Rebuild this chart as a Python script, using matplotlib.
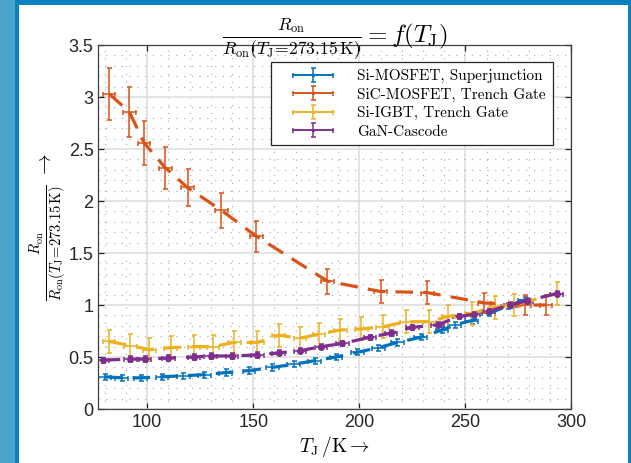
import numpy as np
import matplotlib
matplotlib.use("Agg")
import matplotlib.pyplot as plt
from matplotlib.patches import Rectangle
from matplotlib.ticker import MultipleLocator, FormatStrFormatter
from matplotlib.legend_handler import HandlerErrorbar
from matplotlib.container import ErrorbarContainer

plt.rcParams['font.family'] = ['Liberation Sans', 'DejaVu Sans']
plt.rcParams['mathtext.fontset'] = 'cm'

# Si-MOSFET, Superjunction
t_si_mos = [80, 88, 97, 107, 117, 127, 137, 148, 159, 169, 179, 189, 199, 209, 218, 229, 239, 245, 253, 261, 270, 278]
r_si_mos = [0.31, 0.30, 0.30, 0.31, 0.32, 0.33, 0.35, 0.37, 0.40, 0.43, 0.465, 0.50, 0.545, 0.59, 0.64, 0.69, 0.76, 0.81, 0.85, 0.92, 0.99, 1.05]
e_si_mos = 0.03

# SiC-MOSFET, Trench Gate
t_sic = [82, 91.5, 98.5, 108.5, 119, 135, 151.5, 185, 210, 232, 259, 278, 288]
r_sic = [3.03, 2.86, 2.56, 2.32, 2.13, 1.91, 1.66, 1.23, 1.13, 1.12, 1.02, 1.0, 1.0]
e_sic = [0.25, 0.24, 0.21, 0.20, 0.18, 0.17, 0.15, 0.12, 0.11, 0.11, 0.10, 0.10, 0.10]

# Si-IGBT, Trench Gate
t_igbt = [82, 92, 101, 111, 122, 131, 141, 152, 162, 172, 181, 191, 201, 211, 222, 233, 242, 253, 264, 273, 293]
r_igbt = [0.65, 0.61, 0.57, 0.59, 0.60, 0.60, 0.64, 0.64, 0.71, 0.68, 0.72, 0.76, 0.77, 0.79, 0.84, 0.84, 0.89, 0.92, 0.98, 1.0, 1.11]
e_igbt = 0.11

# GaN-Cascode
t_gan = [79, 92, 99, 110, 122, 130, 140, 152, 162, 172, 182, 192, 205, 215, 225, 237, 247, 254, 261, 271, 279, 293]
r_gan = [0.47, 0.48, 0.48, 0.49, 0.50, 0.51, 0.51, 0.52, 0.54, 0.56, 0.60, 0.63, 0.69, 0.73, 0.785, 0.81, 0.89, 0.91, 0.94, 1.0, 1.04, 1.11]
e_gan = 0.025

x_err = 3.0

series = [
    ("Si-MOSFET, Superjunction", t_si_mos, r_si_mos, e_si_mos, '#0072BD', ''),
    ("SiC-MOSFET, Trench Gate", t_sic, r_sic, e_sic, '#D95319', ''),
    ("Si-IGBT, Trench Gate", t_igbt, r_igbt, e_igbt, '#EDB120', ''),
    ("GaN-Cascode", t_gan, r_gan, e_gan, '#7E2F8E', 'o'),
]

fig = plt.figure(figsize=(6.31, 4.63), dpi=100)
fig.patch.set_facecolor('#4aa3cd')
# Rahmen
fig.patches.append(Rectangle((15/631, 0), 616/631, 1, transform=fig.transFigure,
                             facecolor='#0a80c0', edgecolor='none', zorder=-2))
fig.patches.append(Rectangle((19/631, 0), 609/631, 458/463, transform=fig.transFigure,
                             facecolor='white', edgecolor='none', zorder=-1))

ax = fig.add_axes([0.156, 0.1166, 0.7495, 0.7862])

handles = []
for name, t, r, e, col, mk in series:
    ax.errorbar(t, r, yerr=e, xerr=x_err, color=col, linestyle='--', linewidth=2.3,
                dashes=(5.5, 3.2), elinewidth=1.1, capsize=1.8, capthick=1.1,
                marker=mk, markersize=4)
    # Legende mit durchgezogener Linie
    h = ax.errorbar([np.nan], [np.nan], yerr=0.1, xerr=3, color=col, linestyle='-',
                    linewidth=1.2, elinewidth=1.1, capsize=1.8, capthick=1.1,
                    marker='.', markersize=3, label=name)
    handles.append(h)

ax.set_xlim(77, 300)
ax.set_ylim(0, 3.5)
ax.xaxis.set_major_locator(MultipleLocator(50))
ax.xaxis.set_minor_locator(MultipleLocator(10))
ax.yaxis.set_major_locator(MultipleLocator(0.5))
ax.yaxis.set_minor_locator(MultipleLocator(0.1))
ax.yaxis.set_major_formatter(FormatStrFormatter('%g'))

ax.grid(which='major', color='#dcdcdc', linewidth=1.1, linestyle='-')
ax.grid(which='minor', color='#a8a8a8', linewidth=0.8, linestyle=(0, (1, 6)))
ax.set_axisbelow(True)

ax.tick_params(which='major', direction='in', length=4, top=True, right=True,
               labelsize=13, colors='#262626', width=0.9)
ax.tick_params(which='minor', length=0)
for s in ax.spines.values():
    s.set_color('#404040')
    s.set_linewidth(0.9)

ax.set_title(r'$\frac{R_\mathrm{on}}{R_\mathrm{on}(T_\mathrm{J}\!=\!273.15\,\mathrm{K})} = f(T_\mathrm{J})$',
             fontsize=18, pad=2)
ax.set_xlabel(r'$T_\mathrm{J}\,/\mathrm{K} \rightarrow$', fontsize=14, labelpad=2)
ax.set_ylabel(r'$\frac{R_\mathrm{on}}{R_\mathrm{on}(T_\mathrm{J}\!=\!273.15\,\mathrm{K})}\;\rightarrow$',
              fontsize=15, labelpad=0)

leg = ax.legend(handles=handles, loc='upper right', prop={'family': 'cmr10', 'size': 11},
                frameon=True, fancybox=False, edgecolor='#262626', framealpha=1,
                handlelength=3.6, handletextpad=1.6, borderpad=0.45, labelspacing=0.3,
                borderaxespad=0, bbox_to_anchor=(0.961, 0.953),
                handler_map={ErrorbarContainer: HandlerErrorbar(xerr_size=1.3, yerr_size=0.45, xpad=1.0)})
leg.get_frame().set_linewidth(0.9)

fig.savefig('out.png', dpi=100, facecolor=fig.get_facecolor())
